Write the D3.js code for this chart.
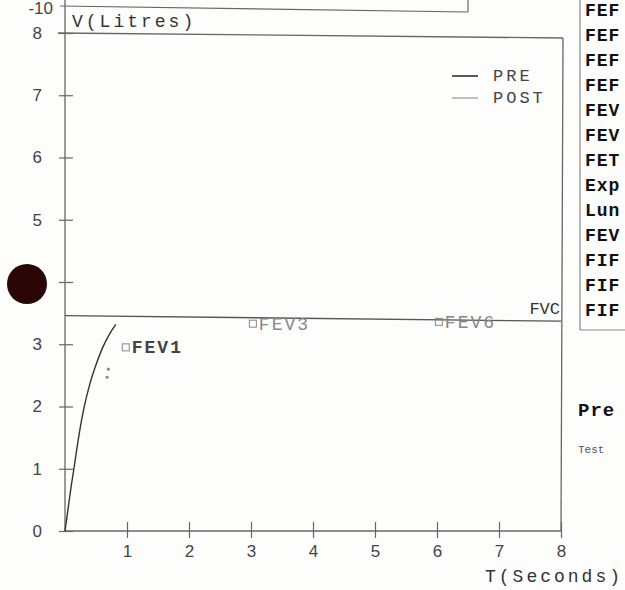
<!DOCTYPE html>
<html><head><meta charset="utf-8">
<script src="https://cdn.jsdelivr.net/npm/d3@7"></script>
<style>html,body{margin:0;padding:0;background:#fff;}svg{display:block}</style>
</head><body>
<script>
// ---- data ----
const preT = [0, 0.05, 0.10, 0.15, 0.20, 0.30, 0.40, 0.50, 0.60, 0.70, 0.76, 0.82];
const preV = [0, 0.36, 0.72, 1.04, 1.38, 1.95, 2.36, 2.67, 2.93, 3.13, 3.23, 3.32];
const postT = [0.68, 0.70];
const postV = [2.47, 2.60];
const fvcT = [0, 8];
const fvcV = [3.46, 3.37];
const markerNames = ["FEV1", "FEV3", "FEV6"];
const markerT = [0.98, 3.03, 6.03];
const markerV = [2.95, 3.33, 3.36];
const xTicks = [1, 2, 3, 4, 5, 6, 7, 8];
const yTicks = [0, 1, 2, 3, 4, 5, 6, 7, 8];
const legendNames = ["PRE", "POST"];
const tableLabels = ["FEF", "FEF", "FEF", "FEF", "FEV", "FEV", "FET", "Exp", "Lun", "FEV", "FIF", "FIF", "FIF"];

const W = 625, H = 590;
const svg = d3.select("body").append("svg").attr("width", W).attr("height", H)
  .style("background", "#fdfdfc");

const x = d3.scaleLinear().domain([0, 8]).range([65, 561]);
const y = d3.scaleLinear().domain([0, 8]).range([531, 33]);

const mono = "'Liberation Mono','DejaVu Sans Mono',monospace";
const sans = "'Liberation Sans','DejaVu Sans',sans-serif";
const axisCol = "#666";

// remnant of chart above
svg.append("text").attr("x", 53).attr("y", 14).attr("text-anchor", "end")
  .attr("font-family", sans).attr("font-size", 17).attr("fill", "#444").text("-10");
svg.append("line").attr("x1", 60).attr("y1", 6).attr("x2", 468).attr("y2", 12)
  .attr("stroke", axisCol).attr("stroke-width", 1.2);
svg.append("line").attr("x1", 468).attr("y1", 0).attr("x2", 468).attr("y2", 12)
  .attr("stroke", axisCol).attr("stroke-width", 1.2);

// plot frame
svg.append("line").attr("x1", x(0)).attr("y1", 0).attr("x2", x(0)).attr("y2", y(0))
  .attr("stroke", axisCol).attr("stroke-width", 1.3);
svg.append("line").attr("x1", 58).attr("y1", y(8)).attr("x2", 563).attr("y2", y(8) + 5)
  .attr("stroke", axisCol).attr("stroke-width", 1.3);
svg.append("line").attr("x1", 563).attr("y1", y(8) + 5).attr("x2", x(8)).attr("y2", y(0))
  .attr("stroke", axisCol).attr("stroke-width", 1.3);
svg.append("line").attr("x1", x(0)).attr("y1", y(0)).attr("x2", x(8)).attr("y2", y(0))
  .attr("stroke", axisCol).attr("stroke-width", 1.3);

// y axis
const gy = svg.append("g").attr("transform", `translate(${x(0)},0)`)
  .call(d3.axisLeft(y).tickValues(yTicks).tickSize(6).tickPadding(17).tickFormat(d3.format("d")));
gy.select(".domain").remove();
gy.selectAll(".tick line").attr("x1", 8).attr("stroke", axisCol).attr("stroke-width", 1.2);
gy.selectAll(".tick text").attr("font-family", sans).attr("font-size", 17).attr("fill", "#444");

// x axis
const gx = svg.append("g").attr("transform", `translate(0,${y(0)})`)
  .call(d3.axisBottom(x).tickValues(xTicks).tickSize(7).tickPadding(7).tickFormat(d3.format("d")));
gx.select(".domain").remove();
gx.selectAll(".tick line").attr("y1", -9).attr("stroke", axisCol).attr("stroke-width", 1.2);
gx.selectAll(".tick text").attr("font-family", sans).attr("font-size", 17).attr("fill", "#444");

// axis titles
svg.append("text").attr("x", 72).attr("y", 27).attr("font-family", mono).attr("font-size", 18)
  .attr("letter-spacing", 3).attr("fill", "#333").text("V(Litres)");
svg.append("text").attr("x", 485).attr("y", 582).attr("font-family", mono).attr("font-size", 18)
  .attr("letter-spacing", 3).attr("fill", "#333").text("T(Seconds)");

// FVC reference line
const line = d3.line().x(d => x(d[0])).y(d => y(d[1]));
svg.append("path").datum(fvcT.map((t, i) => [t, fvcV[i]]))
  .attr("d", line).attr("fill", "none").attr("stroke", "#555").attr("stroke-width", 1.3);
svg.append("text").attr("x", 560).attr("y", 314).attr("text-anchor", "end")
  .attr("font-family", mono).attr("font-size", 17).attr("fill", "#333").text("FVC");

// PRE curve
svg.append("path").datum(preT.map((t, i) => [t, preV[i]]))
  .attr("d", d3.line().x(d => x(d[0])).y(d => y(d[1])).curve(d3.curveMonotoneX))
  .attr("fill", "none").attr("stroke", "#333").attr("stroke-width", 1.4);

// POST points
svg.selectAll(".post").data(postT.map((t, i) => [t, postV[i]])).enter().append("circle")
  .attr("cx", d => x(d[0])).attr("cy", d => y(d[1])).attr("r", 1.6).attr("fill", "#888");

// markers
const mk = svg.selectAll(".mk").data(markerNames.map((n, i) => ({ n, t: markerT[i], v: markerV[i], i })))
  .enter().append("g");
mk.append("rect").attr("x", d => x(d.t) - 3.5).attr("y", d => y(d.v) - 3.5).attr("width", 7).attr("height", 7)
  .attr("fill", "none").attr("stroke", "#888").attr("stroke-width", 1);
mk.append("text").attr("x", d => x(d.t) + 6).attr("y", d => y(d.v) + 6)
  .attr("font-family", mono).attr("font-size", 18).attr("letter-spacing", 2)
  .attr("font-weight", d => d.i === 0 ? "bold" : "normal")
  .attr("fill", d => d.i === 0 ? "#444" : "#888").text(d => d.n);

// legend
const lg = svg.selectAll(".lg").data(legendNames).enter().append("g")
  .attr("transform", (d, i) => `translate(452,${76 + i * 22})`);
lg.append("line").attr("x1", 0).attr("x2", 26).attr("stroke", (d, i) => i === 0 ? "#333" : "#999")
  .attr("stroke-width", (d, i) => i === 0 ? 1.6 : 1.2);
lg.append("text").attr("x", 41).attr("y", 5).attr("font-family", mono).attr("font-size", 17)
  .attr("letter-spacing", 3).attr("fill", "#444").text(d => d);

// side table
svg.append("line").attr("x1", 580).attr("y1", 0).attr("x2", 580).attr("y2", 330)
  .attr("stroke", "#888").attr("stroke-width", 1.2);
svg.append("line").attr("x1", 580).attr("y1", 330).attr("x2", 625).attr("y2", 330)
  .attr("stroke", "#888").attr("stroke-width", 1.2);
svg.selectAll(".tb").data(tableLabels).enter().append("text")
  .attr("x", 585).attr("y", (d, i) => 16 + i * 25)
  .attr("font-family", mono).attr("font-size", 18)
  .attr("font-weight", "bold").attr("letter-spacing", 1)
  .attr("fill", "#111").text(d => d);

svg.append("text").attr("x", 578).attr("y", 416).attr("font-family", mono).attr("font-size", 19)
  .attr("font-weight", "bold").attr("letter-spacing", 1).attr("fill", "#111").text("Pre");
svg.append("text").attr("x", 578).attr("y", 453).attr("font-family", mono).attr("font-size", 11)
  .attr("fill", "#555").text("Test");

// punch hole
svg.append("circle").attr("cx", 27).attr("cy", 284).attr("r", 20).attr("fill", "#2a0606");
</script>
</body></html>
